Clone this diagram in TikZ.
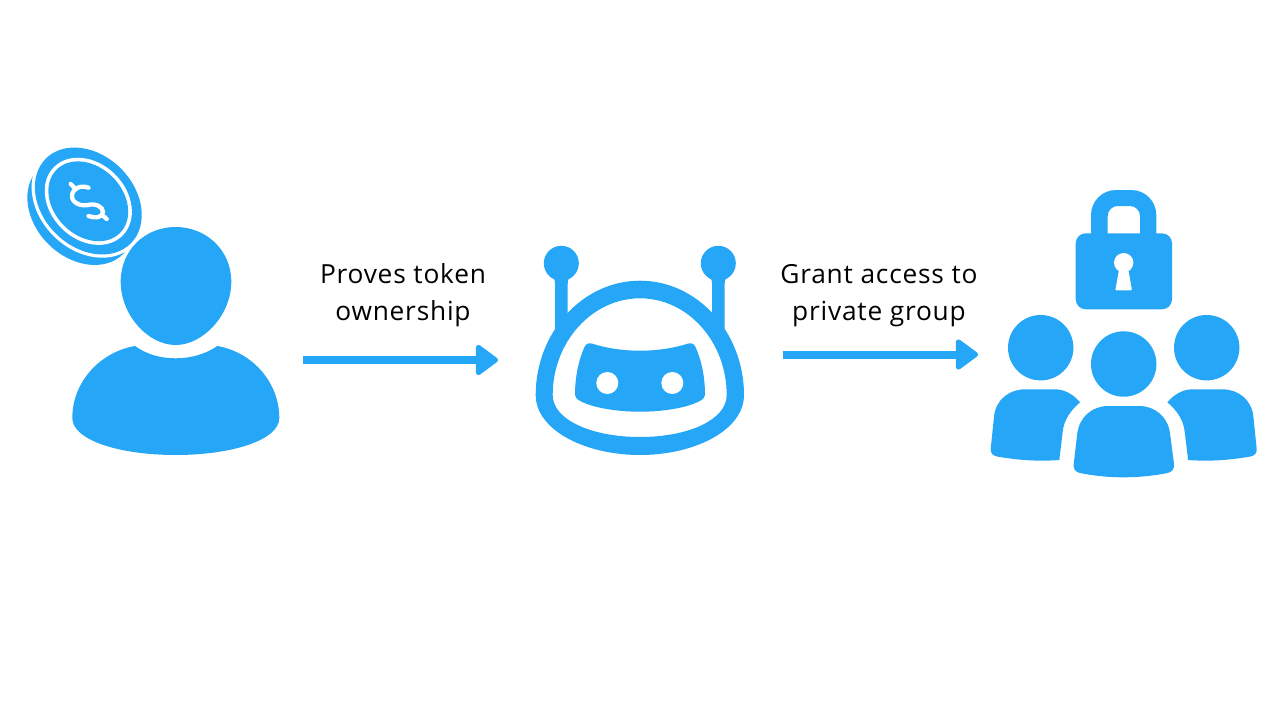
\documentclass[tikz,border=0pt]{standalone}
\usepackage{fontspec}
\setmainfont{Open Sans}[LetterSpace=3.0]
\usetikzlibrary{arrows.meta}
\definecolor{brandblue}{HTML}{25A6F6}
\tikzset{
  icon/.style={fill=brandblue,draw=none},
  knock/.style={fill=white,draw=none},
  flow/.style={draw=brandblue,line width=8pt,-{Triangle[round,length=24pt,width=34pt,line width=5pt,fill=brandblue]}},
  caption/.style={font=\fontsize{26.3}{37}\selectfont,align=center,text=black,inner sep=0pt,anchor=base},
  dollar/.style={draw=white,line width=4.3pt,line cap=round}
}
\begin{document}
\begin{tikzpicture}[x=1pt,y=-1pt]
\useasboundingbox (0,0) rectangle (1280,720);
\fill[white] (0,0) rectangle (1280,720);

% back coin, halo, front coin
\fill[icon,rotate around={-45:(80.8,211.5)}] (80.8,211.5) ellipse [x radius=60pt,y radius=46pt];
\fill[knock,rotate around={-45:(88.3,201)}] (88.3,201) ellipse [x radius=63.3pt,y radius=49.3pt];
\fill[icon,rotate around={-45:(88.3,201)}] (88.3,201) ellipse [x radius=60pt,y radius=46pt];
\fill[knock,rotate around={-45:(88.3,201.3)}] (88.3,201.3) ellipse [x radius=48.5pt,y radius=38pt];
\fill[icon,rotate around={-45:(88.3,201.3)}] (88.3,201.3) ellipse [x radius=44.8pt,y radius=34.3pt];
\draw[dollar] (88.5,187.7) .. controls (80,184.5) and (72,189) .. (72,196) .. controls (72,203) and (81,206.5) .. (88,205) .. controls (96,203) and (103,207) .. (103,212) .. controls (103,218) and (94,218.5) .. (88.5,216);
\draw[dollar] (70.7,184) -- (75,188.3);
\draw[dollar] (106.7,219) -- (102.3,215);

% person
\fill[icon] (175.7,227) .. controls (206,227) and (231.3,250) .. (231.3,281.7) .. controls (231.3,315) and (203,345) .. (175.7,345) .. controls (148,345) and (120.7,315) .. (120.7,281.7) .. controls (120.7,250) and (145,227) .. (175.7,227) -- cycle;
\fill[icon] (135,346) .. controls (146,354) and (160,358.3) .. (175.7,358.3) .. controls (191,358.3) and (206,354) .. (217.3,346) .. controls (252,352) and (279.3,382) .. (279.3,418) .. controls (279.3,440) and (232,455) .. (175.7,455) .. controls (119,455) and (72.3,440) .. (72.3,418) .. controls (72.3,382) and (100,352) .. (135,346) -- cycle;

% robot
\fill[icon] (561.3,263.3) circle [radius=17.5pt];
\fill[icon] (718.3,263.3) circle [radius=17.5pt];
\fill[icon] (552,276) .. controls (554,278) and (555,280) .. (555,284) -- (555,332) -- (567.7,332) -- (567.7,284) .. controls (567.7,280) and (568.7,278) .. (570.7,276) -- cycle;
\fill[icon] (709,276) .. controls (711,278) and (712,280) .. (712,284) -- (712,332) -- (724.7,332) -- (724.7,284) .. controls (724.7,280) and (725.7,278) .. (727.7,276) -- cycle;
\fill[icon,even odd rule] (535.7,395) .. controls (535.7,333) and (582,280.7) .. (640,280.7) .. controls (698,280.7) and (744,333) .. (744,395) .. controls (744,430) and (695,455) .. (640,455) .. controls (585,455) and (535.7,430) .. (535.7,395) -- cycle
 (552.7,395) .. controls (552.7,342) and (592,298.3) .. (640,298.3) .. controls (688,298.3) and (726.7,342) .. (726.7,395) .. controls (726.7,420) and (688,437) .. (640,437) .. controls (592,437) and (552.7,420) .. (552.7,395) -- cycle;
\fill[icon] (592,343.6) .. controls (606,348) and (622,350.7) .. (640,350.7) .. controls (658,350.7) and (674,348) .. (688,343.6) .. controls (692,342.6) and (694,344) .. (695.5,347) .. controls (701,359) and (705,376) .. (705,395) .. controls (705,403) and (675,411.7) .. (640,411.7) .. controls (605,411.7) and (575,403) .. (575,395) .. controls (575,376) and (579,359) .. (584.5,347) .. controls (586,344) and (588,342.6) .. (592,343.6) -- cycle;
\fill[knock] (607.3,383) circle [radius=11pt];
\fill[knock] (672.3,383) circle [radius=11pt];

% lock
\fill[icon,even odd rule] (1091,236) -- (1091,215) [rounded corners=25pt] -- (1091,190) -- (1156.3,190) [sharp corners] -- (1156.3,215) -- (1156.3,236) -- (1140,236) -- (1140,216) [rounded corners=10pt] -- (1140,206) -- (1107.7,206) [sharp corners] -- (1107.7,216) -- (1107.7,236) -- cycle;
\fill[icon,rounded corners=10pt] (1075.7,233.3) rectangle (1172,309.3);
\fill[knock] (1123.7,262.7) circle [radius=9.7pt];
\fill[knock,rounded corners=1pt] (1119.3,268) -- (1128,268) -- (1132,290.3) -- (1115.3,290.3) -- cycle;

% group
\fill[icon] (1040.7,347.7) circle [radius=32.7pt];
\fill[icon] (1123.7,364) circle [radius=32.7pt];
\fill[icon] (1206.7,347.7) circle [radius=32.7pt];
\fill[icon] (1108.3,406) -- (1139.3,406) .. controls (1155,406) and (1168,417) .. (1170,433.3) -- (1174,464) .. controls (1174.5,469) and (1172,472) .. (1167.5,473) .. controls (1155,475.5) and (1140,477.3) .. (1123.7,477.3) .. controls (1107,477.3) and (1092,475.5) .. (1080,473) .. controls (1075.5,472) and (1073,469) .. (1073.7,464) -- (1077.3,433.3) .. controls (1079.5,417) and (1092,406) .. (1108.3,406) -- cycle;
\fill[icon] (1025,389.3) -- (1055,389.3) .. controls (1065,389.3) and (1074,395) .. (1080,402.3) .. controls (1070,411) and (1064,420) .. (1062.7,431.7) -- (1059.3,460) .. controls (1040,461.5) and (1020,460.5) .. (997,456.5) .. controls (992.5,455.5) and (990.5,453) .. (990.7,449) -- (994,416.7) .. controls (995.5,400) and (1009,389.3) .. (1025,389.3) -- cycle;
\fill[icon] (1222.4,389.3) -- (1192.4,389.3) .. controls (1182.4,389.3) and (1173.4,395) .. (1167.4,402.3) .. controls (1177.4,411) and (1183.4,420) .. (1184.7,431.7) -- (1188.1,460) .. controls (1207.4,461.5) and (1227.4,460.5) .. (1250.4,456.5) .. controls (1254.9,455.5) and (1256.9,453) .. (1256.7,449) -- (1253.4,416.7) .. controls (1251.9,400) and (1238.4,389.3) .. (1222.4,389.3) -- cycle;

% connectors
\coordinate (userport) at (303,360);
\coordinate (botin) at (498,360);
\coordinate (botout) at (783,354.5);
\coordinate (groupin) at (978,354.5);
\draw[flow] (userport) -- (botin);
\draw[flow] (botout) -- (groupin);

% labels
\node[caption] (provesA) at (403,283) {Proves token};
\node[caption] (provesB) at (403,320) {ownership};
\node[caption] (grantA) at (879,283) {Grant access to};
\node[caption] (grantB) at (879,320) {private group};
\end{tikzpicture}
\end{document}
